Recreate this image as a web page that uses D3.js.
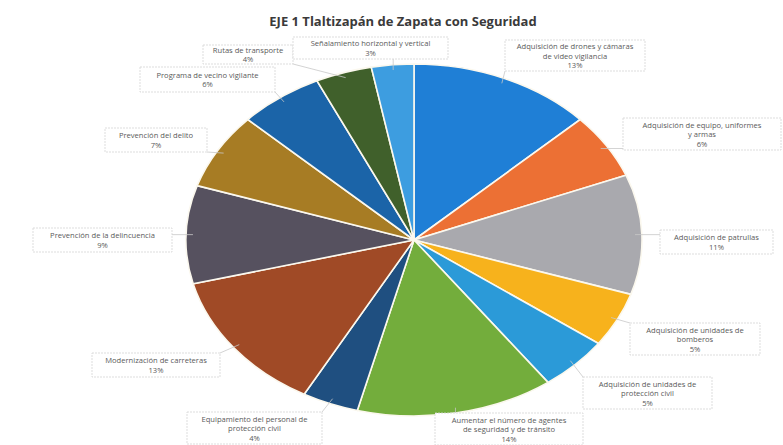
<!DOCTYPE html>
<html><head><meta charset="utf-8">
<script src="https://cdn.jsdelivr.net/npm/d3@7"></script>
<style>
html,body{margin:0;padding:0;background:#fff;}
svg{display:block;}
</style></head>
<body>
<svg id="chart" width="783" height="445"></svg>
<script>
// ---- data ----
const categories = [
  "Adquisición de drones y cámaras de video vigilancia",
  "Adquisición de equipo, uniformes y armas",
  "Adquisición de patrullas",
  "Adquisición de unidades de bomberos",
  "Adquisición de unidades de protección civil",
  "Aumentar el número de agentes de seguridad y de tránsito",
  "Equipamiento del personal de protección civil",
  "Modernización de carreteras",
  "Prevención de la delincuencia",
  "Prevención del delito",
  "Programa de vecino vigilante",
  "Rutas de transporte",
  "Señalamiento horizontal y vertical"
];
const values = [13, 6, 11, 5, 5, 14, 4, 13, 9, 7, 6, 4, 3];
const percentLabels = ["13%","6%","11%","5%","5%","14%","4%","13%","9%","7%","6%","4%","3%"];
// label lines as wrapped in the chart
const labelLines = [
  ["Adquisición de drones y cámaras","de video vigilancia"],
  ["Adquisición de equipo, uniformes","y armas"],
  ["Adquisición de patrullas"],
  ["Adquisición de unidades de","bomberos"],
  ["Adquisición de unidades de","protección civil"],
  ["Aumentar el número de agentes","de seguridad y de tránsito"],
  ["Equipamiento del personal de","protección civil"],
  ["Modernización de carreteras"],
  ["Prevención de la delincuencia"],
  ["Prevención del delito"],
  ["Programa de vecino vigilante"],
  ["Rutas de transporte"],
  ["Señalamiento horizontal y vertical"]
];
const title = "EJE 1 Tlaltizapán de Zapata con Seguridad";

// ---- styles / layout ----
const colors = ["#1f7fd6","#ec7034","#a9a9ae","#f7b21c","#2b9ad8","#73ad3c",
                "#1f4f80","#a04a26","#56515f","#a77c24","#1b64a8","#40602b","#3d9de0"];
// label box layout [x, y, w, h]
const boxes = [
  [505,40,140,31],[623,118,158,32],[660,230,113,24],[630,323,130,32],
  [583,377,129,32],[435,413,148,32],[187,412,135,32],[92,353,128,24],
  [33,228,139,24],[105,128,102,24],[140,67,135,25],[203,45,90,19],[293,37,155,22]
];
const cx = 414, cy = 240, rx = 228, ry = 176;

const svg = d3.select("#chart");

svg.append("text")
  .attr("x", 403).attr("y", 26)
  .attr("text-anchor","middle")
  .style("font-family","'Open Sans', sans-serif")
  .style("font-weight","bold")
  .style("font-size","13px")
  .style("fill","#3a3a3a")
  .text(title);

const pie = d3.pie().sort(null).value(d => d);
const arcsData = pie(values);
const arc = d3.arc().innerRadius(0).outerRadius(ry);

const g = svg.append("g")
  .attr("transform", `translate(${cx},${cy}) scale(${rx/ry},1)`);

g.selectAll("path.slice").data(arcsData).enter().append("path")
  .attr("class","slice")
  .attr("d", arc)
  .attr("fill", (d,i) => colors[i])
  .attr("stroke", "#fbf8ee")
  .attr("stroke-width", 1.6)
  .attr("vector-effect","non-scaling-stroke");

// leader lines
const lblG = svg.append("g");
arcsData.forEach((d,i) => {
  const a = (d.startAngle + d.endAngle)/2;
  const px = cx + rx*0.97*Math.sin(a), py = cy - ry*0.97*Math.cos(a);
  const [bx,by,bw,bh] = boxes[i];
  const tx = Math.max(bx, Math.min(bx+bw, px));
  const ty = Math.max(by, Math.min(by+bh, py));
  lblG.append("line")
    .attr("x1",px).attr("y1",py).attr("x2",tx).attr("y2",ty)
    .attr("stroke","#c8c8c8").attr("stroke-width",0.8);
});

// label boxes
arcsData.forEach((d,i) => {
  const [bx,by,bw,bh] = boxes[i];
  lblG.append("rect")
    .attr("x",bx).attr("y",by).attr("width",bw).attr("height",bh)
    .attr("fill","#fff").attr("stroke","#d4d4d4").attr("stroke-width",0.8)
    .attr("stroke-dasharray","2,1");
  const lines = labelLines[i].concat([percentLabels[i]]);
  const lh = 9.5;
  const startY = by + bh/2 - (lines.length-1)*lh/2 + 3;
  const t = lblG.append("text")
    .attr("text-anchor","middle")
    .style("font-family","'Open Sans', sans-serif")
    .style("font-size","7.6px")
    .style("fill","#5a5a5a");
  lines.forEach((ln,j) => {
    t.append("tspan").attr("x", bx+bw/2).attr("y", startY + j*lh).text(ln);
  });
});
</script>
</body></html>
